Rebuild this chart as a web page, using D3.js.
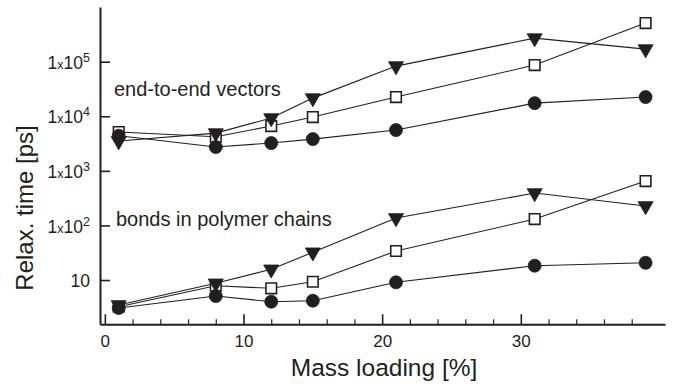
<!DOCTYPE html>
<html>
<head>
<meta charset="utf-8">
<script src="https://cdn.jsdelivr.net/npm/d3@7"></script>
<style>
  body { margin: 0; background: #fff; }
  svg { display: block; font-family: "Liberation Sans", Arial, Helvetica, sans-serif; }
</style>
</head>
<body>
<div id="chart"></div>
<script>
// ---- data ----
const massLoading = [1, 8, 12, 15, 21, 31, 39];

// end-to-end vectors
const e2eCircle   = [4400, 2730, 3230, 3820, 5590, 17400, 22500];
const e2eSquare   = [5150, 4210, 6620, 9670, 22500, 86700, 509000];
const e2eTriangle = [3520, 4920, 9270, 21500, 83000, 270000, 170000];

// bonds in polymer chains
const bondCircle   = [3.07, 5.09, 4.01, 4.18, 9.08, 18.3, 20.7];
const bondSquare   = [3.24, 7.87, 7.05, 9.3, 34, 131, 650];
const bondTriangle = [3.48, 8.7, 15.7, 32.2, 137, 392, 227];

const yTicks = [10, 1e2, 1e3, 1e4, 1e5];
const xMajor = [0, 10, 20, 30];
const xMinor = [2, 4, 6, 8, 12, 14, 16, 18, 22, 24, 26, 28, 32, 34, 36, 38];

const ink = "#231f20";

// ---- setup ----
const W = 674, H = 388;
const svg = d3.select("#chart").append("svg")
  .attr("width", W).attr("height", H);

const x = d3.scaleLinear().domain([-0.35, 40.4]).range([100, 665]);
const y = d3.scaleLog().domain([1.545, 1e6]).range([324.3, 7.1]);

// ---- axes ----
const xAxisMinor = svg.append("g")
  .attr("transform", "translate(0,324.3)")
  .call(d3.axisBottom(x).tickValues(xMinor).tickSizeInner(-5).tickSizeOuter(0).tickFormat(""));
xAxisMinor.select(".domain").remove();

const xAxis = svg.append("g")
  .attr("transform", "translate(0,324.3)")
  .call(d3.axisBottom(x).tickValues(xMajor).tickSizeInner(-10).tickSizeOuter(0).tickPadding(11));

const yAxis = svg.append("g")
  .attr("transform", "translate(100,0)")
  .call(d3.axisLeft(y).tickValues(yTicks).tickSizeInner(-10).tickSizeOuter(0).tickPadding(10).tickFormat(""));

[xAxisMinor, xAxis, yAxis].forEach(g => {
  g.selectAll("line").attr("stroke", ink).attr("stroke-width", 1.6);
  g.selectAll(".domain").attr("stroke", ink).attr("stroke-width", 2);
});
xAxisMinor.selectAll("line").attr("stroke-width", 1.2);

xAxis.selectAll("text")
  .attr("fill", ink)
  .style("font-size", "17px");

// y tick labels with superscripts
yAxis.selectAll(".tick text").each(function (d) {
  const t = d3.select(this).attr("fill", ink).style("font-size", "17.5px").attr("dy", "0.38em");
  const e = Math.round(Math.log10(d));
  if (e === 1) { t.append("tspan").text("10"); return; }
  t.append("tspan").text("1");
  t.append("tspan").style("font-size", "12.5px").text("x");
  t.append("tspan").text("10");
  t.append("tspan").style("font-size", "12.5px").attr("dy", "-7").text(e);
});

// axis titles
svg.append("text")
  .attr("x", 384).attr("y", 376)
  .attr("text-anchor", "middle")
  .attr("fill", ink)
  .style("font-size", "24.5px")
  .text("Mass loading [%]");

svg.append("text")
  .attr("transform", "translate(33,208) rotate(-90)")
  .attr("text-anchor", "middle")
  .attr("fill", ink)
  .style("font-size", "24px")
  .text("Relax. time [ps]");

// annotations
svg.append("text")
  .attr("x", 114).attr("y", 96)
  .attr("fill", ink)
  .style("font-size", "20px")
  .text("end-to-end vectors");

svg.append("text")
  .attr("x", 116).attr("y", 226)
  .attr("fill", ink)
  .style("font-size", "20px")
  .text("bonds in polymer chains");

// ---- series ----
const series = [
  { values: e2eSquare, shape: "square" },
  { values: e2eTriangle, shape: "triangle" },
  { values: e2eCircle, shape: "circle" },
  { values: bondSquare, shape: "square" },
  { values: bondTriangle, shape: "triangle" },
  { values: bondCircle, shape: "circle" }
];

const line = d3.line().x(d => x(d[0])).y(d => y(d[1]));

const symbols = {
  circle: d3.symbol().type(d3.symbolCircle).size(Math.PI * 6.5 * 6.5),
  square: d3.symbol().type(d3.symbolSquare).size(112),
  triangle: d3.symbol().type(d3.symbolTriangle).size(98)
};

const lines = svg.append("g");
series.forEach(s => {
  const pts = massLoading.map((m, i) => [m, s.values[i]]);
  lines.append("path")
    .attr("d", line(pts))
    .attr("fill", "none")
    .attr("stroke", ink)
    .attr("stroke-width", 1.1);
});

const marks = svg.append("g");
series.forEach(s => {
  const pts = massLoading.map((m, i) => [m, s.values[i]]);
  marks.selectAll(null)
    .data(pts)
    .enter().append("path")
    .attr("d", symbols[s.shape])
    .attr("transform", d => `translate(${x(d[0])},${y(d[1])})` + (s.shape === "triangle" ? " rotate(180)" : ""))
    .attr("fill", s.shape === "square" ? "#fff" : ink)
    .attr("stroke", ink)
    .attr("stroke-width", s.shape === "square" ? 1.6 : 0.8);
});
</script>
</body>
</html>
